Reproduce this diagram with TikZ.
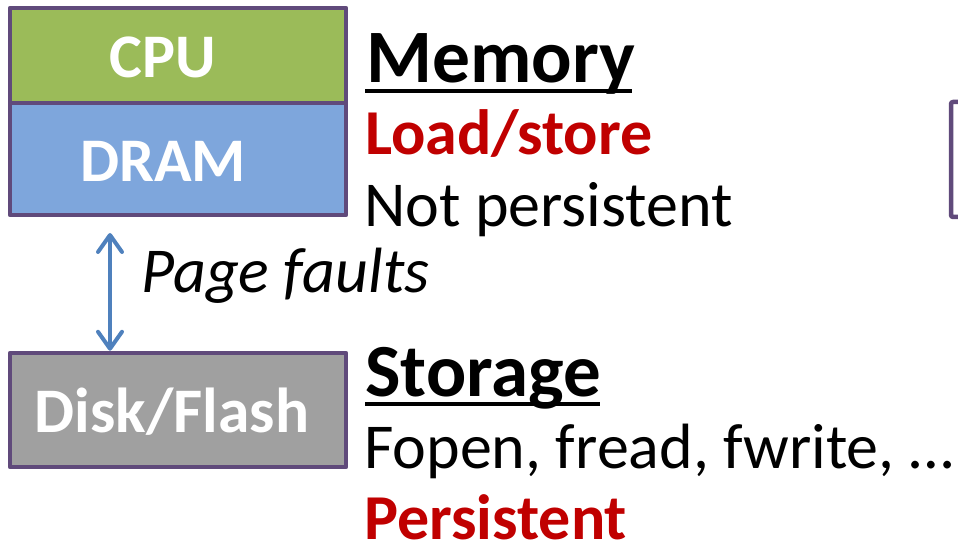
\documentclass[tikz,border=0pt]{standalone}
\usepackage{fontspec}
\setmainfont{Carlito}
\usetikzlibrary{arrows.meta}
\definecolor{boxpurple}{RGB}{96,74,123}
\definecolor{cpugreen}{RGB}{155,187,89}
\definecolor{dramblue}{RGB}{126,166,220}
\definecolor{diskgray}{RGB}{160,160,160}
\definecolor{arrowblue}{RGB}{79,129,189}
\definecolor{darkred}{RGB}{192,0,0}
\begin{document}
\begin{tikzpicture}[x=1pt,y=-1pt,
  boxline/.style={draw=boxpurple,line width=4.5pt,line join=round},
  hwbox/.style={boxline,inner sep=0pt,minimum width=336pt},
  boxtext/.style={text=white,font=\fontsize{62}{62}\selectfont\bfseries,inner sep=0pt,anchor=base},
  headtext/.style={font=\fontsize{75}{75}\selectfont\bfseries,inner sep=0pt,anchor=base west},
  bodytext/.style={font=\fontsize{64}{64}\selectfont,inner sep=0pt,anchor=base west},
  redtext/.style={bodytext,text=darkred,font=\fontsize{64}{64}\selectfont\bfseries},
  uline/.style={line width=4pt},
  arr/.style={draw=arrowblue,line width=4pt,{Straight Barb[length=17pt,width=24pt,round]}-{Straight Barb[length=17pt,width=24pt,round]}}
]
\useasboundingbox (0,0) rectangle (958,545);
\begin{scope}
\clip (0,0) rectangle (958,545);
\draw[boxline,fill=white,rounded corners=2pt] (951,102) rectangle (1010,217);
\end{scope}
% boxes
\node[hwbox,fill=cpugreen,minimum height=95pt] (cpu) at (178,55.5) {};
\node[hwbox,fill=dramblue,minimum height=112pt] (dram) at (178,159) {};
\node[hwbox,fill=diskgray,minimum height=114pt] (disk) at (178,410) {};
\node[boxtext] (cputxt) at (163,78) {CPU};
\node[boxtext] (dramtxt) at (163,182) {DRAM};
\node[boxtext,font=\fontsize{63.5}{63.5}\selectfont\bfseries] (disktxt) at (172,432) {Disk/Flash};
% arrow
\coordinate (atop) at (110,233);
\draw[arr] (atop) -- (disk.north -| atop);
\node[bodytext,font=\fontsize{64}{64}\selectfont\itshape] (pf) at (141,292) {Page faults};
% memory texts
\node[headtext,font=\fontsize{75.5}{75.5}\selectfont\bfseries] (mem) at (366,83) {Memory};
\draw[uline] (365,91) coordinate (m1) -- (632,91) coordinate (m2);
\node[redtext] (ls) at (365,155) {Load/store};
\node[bodytext] (np) at (364,227) {Not persistent};
% storage texts
\node[headtext] (sto) at (365,396) {Storage};
\draw[uline] (365,404) coordinate (s1) -- (600,404) coordinate (s2);
\node[bodytext] (fo) at (364,468) {Fopen, fread, fwrite, …};
\node[redtext] (pe) at (364,539) {Persistent};
\end{tikzpicture}
\end{document}
